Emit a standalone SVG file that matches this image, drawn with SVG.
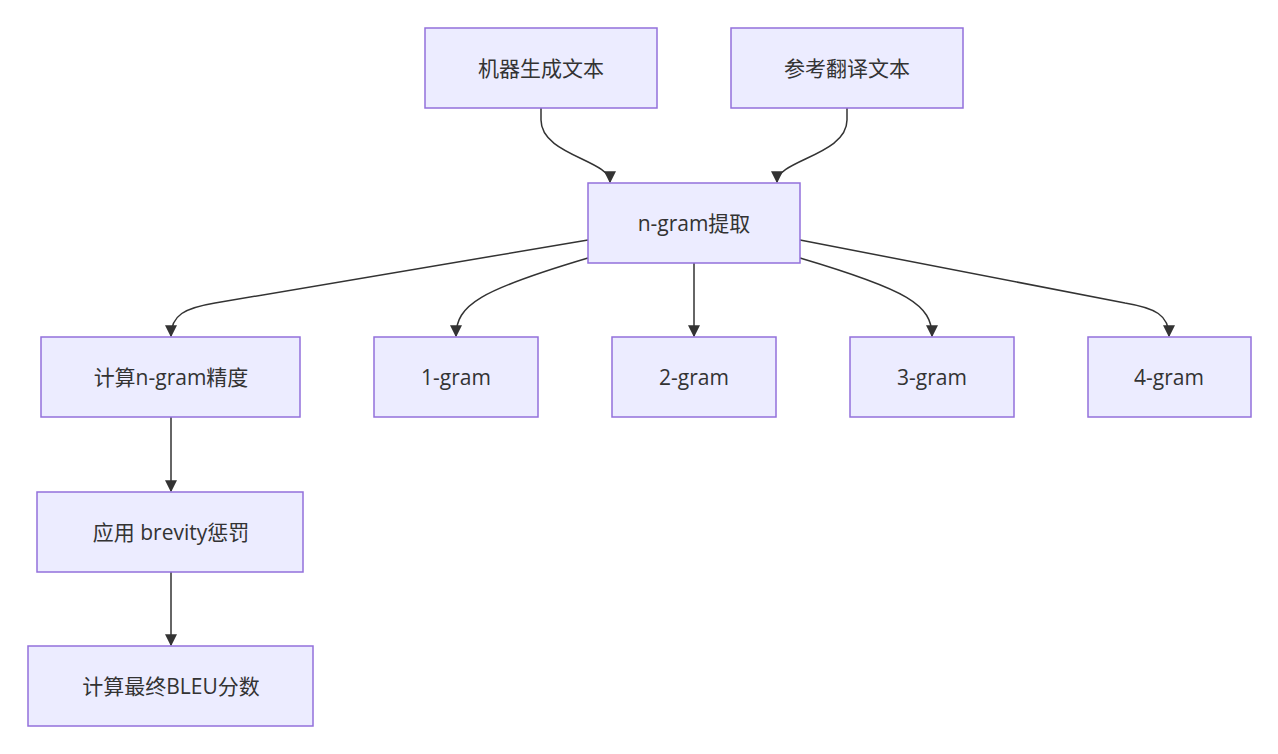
<svg xmlns="http://www.w3.org/2000/svg" width="1278" height="754" viewBox="0 0 1278 754">
<style>
.n rect{fill:#ECECFF;stroke:#9370DB;stroke-width:1.5}
.n text{font-family:"Open Sans","Noto Sans CJK SC",sans-serif;font-size:21px;fill:#333;text-anchor:middle;dominant-baseline:central}
.e path{fill:none;stroke:#333;stroke-width:1.5;marker-end:url(#a)}
</style>
<defs><marker id="a" viewBox="0 0 10 10" refX="9" refY="5" markerWidth="8" markerHeight="8" orient="auto"><path d="M0,0L10,5L0,10z" fill="#333"/></marker></defs>
<rect width="1278" height="754" fill="#fff"/>
<g class="e">
<path d="M541,108 L541,120 C541,155 610,160 610,182"/>
<path d="M847,108 L847,120 C847,155 777,160 777,182"/>
<path d="M588,240 L215,303 C185,308 171,315 171,336"/>
<path d="M588,258 C480,290 456,305 456,336"/>
<path d="M694,263 L694,336"/>
<path d="M800,258 C908,290 932,305 932,336"/>
<path d="M800,240 L1125,303 C1155,308 1169,315 1169,336"/>
<path d="M171,417 L171,491"/>
<path d="M171,572 L171,645"/>
</g>
<g class="n" id="n1"><rect x="425" y="28" width="232" height="80"/><text x="541" y="68">机器生成文本</text></g>
<g class="n" id="n2"><rect x="731" y="28" width="232" height="80"/><text x="847" y="68">参考翻译文本</text></g>
<g class="n" id="n3"><rect x="588" y="183" width="212" height="80"/><text x="694" y="223">n-gram提取</text></g>
<g class="n" id="n4"><rect x="41" y="337" width="259" height="80"/><text x="171" y="377">计算n-gram精度</text></g>
<g class="n" id="n5"><rect x="374" y="337" width="164" height="80"/><text x="456" y="377">1-gram</text></g>
<g class="n" id="n6"><rect x="612" y="337" width="164" height="80"/><text x="694" y="377">2-gram</text></g>
<g class="n" id="n7"><rect x="850" y="337" width="164" height="80"/><text x="932" y="377">3-gram</text></g>
<g class="n" id="n8"><rect x="1088" y="337" width="163" height="80"/><text x="1169" y="377">4-gram</text></g>
<g class="n" id="n9"><rect x="37" y="492" width="266" height="80"/><text x="171" y="532">应用 brevity惩罚</text></g>
<g class="n" id="n10"><rect x="28" y="646" width="285" height="80"/><text x="171" y="686">计算最终BLEU分数</text></g>
</svg>
